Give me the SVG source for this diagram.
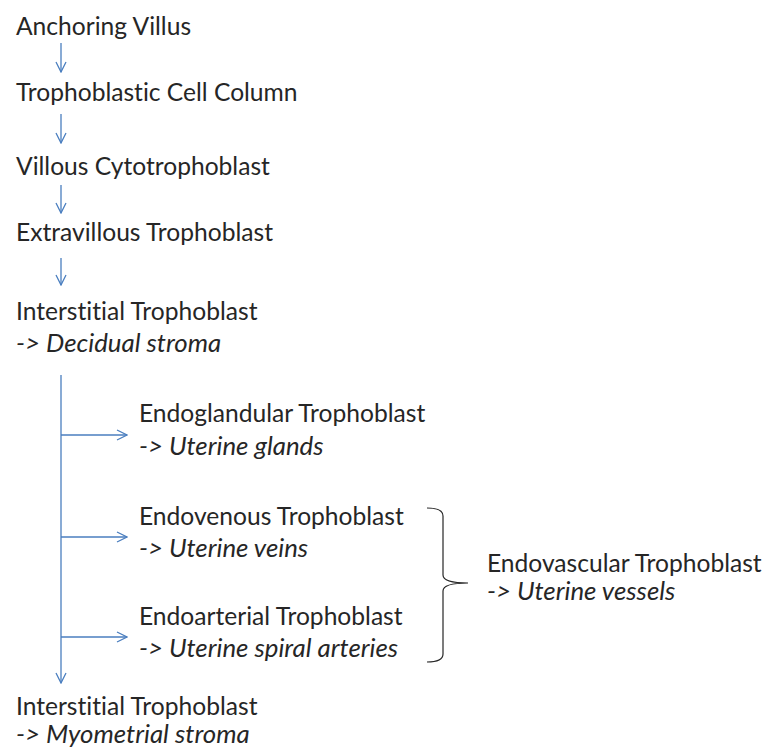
<svg xmlns="http://www.w3.org/2000/svg" width="770" height="753" viewBox="0 0 770 753">
<defs>
<style>
text{font-family:Lato,"Liberation Sans",sans-serif;font-size:24.6px;fill:#262626;font-variant-ligatures:none}
.i{font-style:italic;font-size:25.8px}
.c{stroke:#4a7ebf;stroke-width:1.3;fill:none}
.b{stroke:#262626;stroke-width:1.2;fill:none}
</style>
<marker id="ah" viewBox="0 0 12 12" refX="11" refY="6" markerWidth="12" markerHeight="12" markerUnits="userSpaceOnUse" orient="auto">
<path d="M1 1 L11 6 L1 11" fill="none" stroke="#4a7ebf" stroke-width="1.3"/>
</marker>
</defs>
<rect width="770" height="753" fill="#fff"/>
<g id="n1"><text x="16" y="35">Anchoring Villus</text></g>
<g id="n2"><text x="16" y="101">Trophoblastic Cell Column</text></g>
<g id="n3"><text x="16" y="175">Villous Cytotrophoblast</text></g>
<g id="n4"><text x="16" y="241">Extravillous Trophoblast</text></g>
<g id="n5"><text x="16" y="320">Interstitial Trophoblast</text><text class="i" x="16" y="352">-&gt; Decidual stroma</text></g>
<g id="n6"><text x="139" y="422">Endoglandular Trophoblast</text><text class="i" x="139" y="455">-&gt; Uterine glands</text></g>
<g id="n7"><text x="139" y="525">Endovenous Trophoblast</text><text class="i" x="139" y="557">-&gt; Uterine veins</text></g>
<g id="n8"><text x="139" y="625">Endoarterial Trophoblast</text><text class="i" x="139" y="657">-&gt; Uterine spiral arteries</text></g>
<g id="n9"><text x="16" y="715">Interstitial Trophoblast</text><text class="i" x="16" y="743">-&gt; Myometrial stroma</text></g>
<g id="n10"><text x="487" y="572">Endovascular Trophoblast</text><text class="i" x="487" y="600">-&gt; Uterine vessels</text></g>
<g id="brace"><path class="b" d="M427 508 Q443 508 443 516 L443 575 Q443 583 468 583 Q443 583 443 591 L443 654 Q443 662 427 662"/></g>
<g id="connectors">
<line class="c" x1="61" y1="43" x2="61" y2="72" marker-end="url(#ah)"/>
<line class="c" x1="61" y1="114" x2="61" y2="143" marker-end="url(#ah)"/>
<line class="c" x1="61" y1="185" x2="61" y2="213" marker-end="url(#ah)"/>
<line class="c" x1="61" y1="258" x2="61" y2="285" marker-end="url(#ah)"/>
<line class="c" x1="61" y1="375" x2="61" y2="683" marker-end="url(#ah)"/>
<line class="c" x1="61" y1="435" x2="127" y2="435" marker-end="url(#ah)"/>
<line class="c" x1="61" y1="537" x2="127" y2="537" marker-end="url(#ah)"/>
<line class="c" x1="61" y1="637" x2="127" y2="637" marker-end="url(#ah)"/>
</g>
</svg>
